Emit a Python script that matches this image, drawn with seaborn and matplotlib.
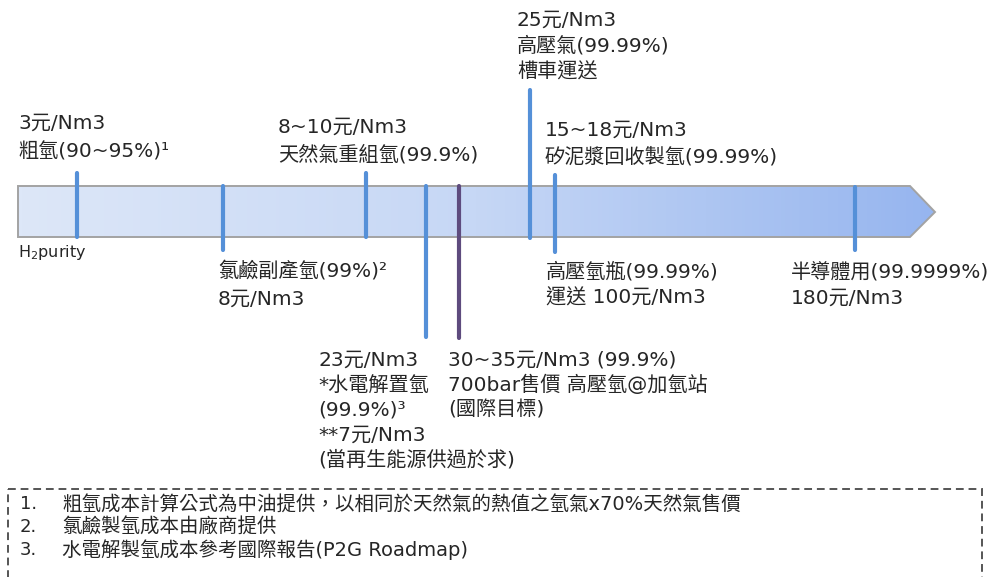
import numpy as np
import pandas as pd
import matplotlib
matplotlib.use("Agg")
import matplotlib.pyplot as plt
import seaborn as sns
from matplotlib.patches import Polygon, Rectangle
from matplotlib.colors import LinearSegmentedColormap

# Stage markers along the H2 purity arrow (positions in the canvas' pixel scale)
stage_x = [77, 223, 366, 426, 459, 530, 555, 855]
stage_top = [173, 186, 173, 186, 186, 90, 175, 187]
stage_bottom = [237, 250, 237, 337, 338, 238, 252, 250]
stage_kind = ["blue", "blue", "blue", "blue", "purple", "blue", "blue", "blue"]

# Label blocks: (left x, first line y, lines)
label_x = [18, 278, 517, 545, 218, 546, 791, 318, 448]
label_y = [123, 127, 20, 130, 271, 272, 273, 360, 360]
label_lines = [
    ["3元/Nm3", "粗氫(90~95%)¹"],
    ["8~10元/Nm3", "天然氣重組氫(99.9%)"],
    ["25元/Nm3", "高壓氣(99.99%)", "槽車運送"],
    ["15~18元/Nm3", "矽泥漿回收製氫(99.99%)"],
    ["氯鹼副產氫(99%)²", "8元/Nm3"],
    ["高壓氫瓶(99.99%)", "運送 100元/Nm3"],
    ["半導體用(99.9999%)", "180元/Nm3"],
    ["23元/Nm3", "*水電解置氫", "(99.9%)³", "**7元/Nm3", "(當再生能源供過於求)"],
    ["30~35元/Nm3 (99.9%)", "700bar售價 高壓氫@加氫站", "(國際目標)"],
]
line_step = [29, 28, 26, 27, 28, 26, 25, 25, 25]

notes_num = ["1.", "2.", "3."]
notes_text = [
    "粗氫成本計算公式為中油提供，以相同於天然氣的熱值之氫氣x70%天然氣售價",
    "氯鹼製氫成本由廠商提供",
    "水電解製氫成本參考國際報告(P2G Roadmap)",
]

sns.set_theme(style="white")
fam = ["DejaVu Sans", "Noto Sans CJK TC"]
plt.rcParams["font.family"] = fam

fig = plt.figure(figsize=(9.94, 5.77), dpi=100)
ax = fig.add_axes([0, 0, 1, 1])

# Gradient arrow
arrow_pts = [(18, 186), (910, 186), (935, 212), (910, 237), (18, 237)]
arrow = Polygon(arrow_pts, closed=True, facecolor="none", edgecolor="#a3a3a3", lw=1.4, zorder=3)
ax.add_patch(arrow)
cmap = LinearSegmentedColormap.from_list("bar", ["#dde7f8", "#c6d7f5", "#96b5ef"])
img = ax.imshow(np.linspace(0, 1, 256).reshape(1, -1), extent=(18, 935, 237, 186),
                cmap=cmap, aspect="auto", zorder=1)
img.set_clip_path(arrow)

# Marker lines
rows = []
for i, (x, t, b, k) in enumerate(zip(stage_x, stage_top, stage_bottom, stage_kind)):
    rows.append({"id": i, "x": x, "y": t, "kind": k})
    rows.append({"id": i, "x": x, "y": b, "kind": k})
df = pd.DataFrame(rows)
sns.lineplot(data=df, x="x", y="y", units="id", hue="kind", estimator=None, sort=False,
             palette={"blue": "#5590d8", "purple": "#5e4b7e"}, lw=3.0,
             legend=False, ax=ax, zorder=4)
ax.set_xlim(0, 994)
ax.set_ylim(577, 0)
ax.axis("off")

txt = "#262626"
for x, y, lines, step in zip(label_x, label_y, label_lines, line_step):
    for j, s in enumerate(lines):
        ax.text(x, y + j * step, s, fontsize=14.5, color=txt, ha="left", va="center")

ax.text(18, 252, "H$_2$purity", fontsize=11.5, color=txt, ha="left", va="center")

# Footnote box
ax.add_patch(Rectangle((8, 489), 974, 110, fill=False, edgecolor="#555555",
                       lw=1.4, linestyle=(0, (4, 2.5)), zorder=2))
for k, (n, s) in enumerate(zip(notes_num, notes_text)):
    y = 504 + k * 23
    ax.text(20, y, n, fontsize=13, color=txt, ha="left", va="center")
    ax.text(62, y, s, fontsize=14, color=txt, ha="left", va="center")

fig.savefig("out.png", dpi=100)
